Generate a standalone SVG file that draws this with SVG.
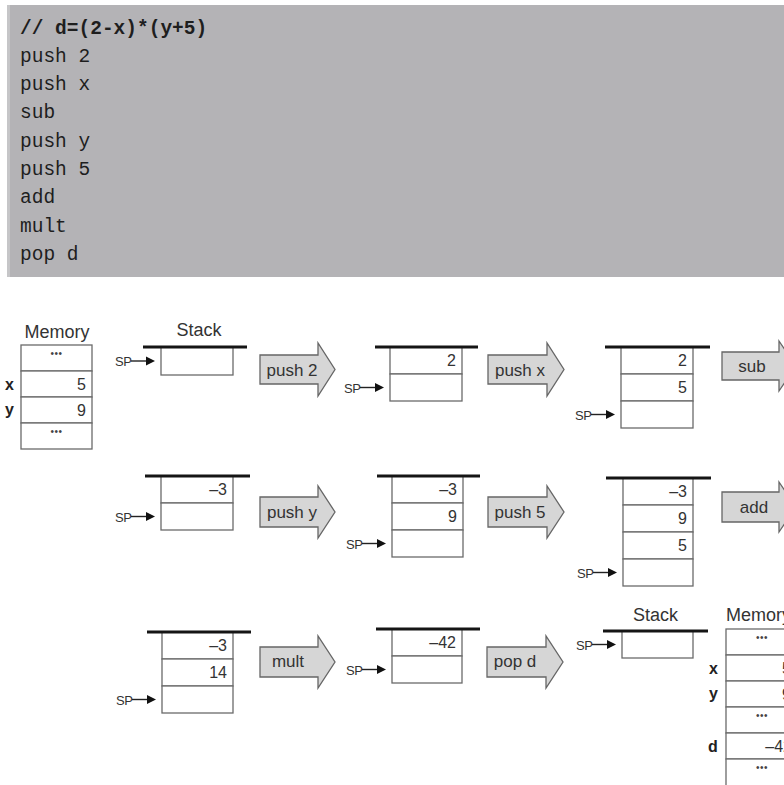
<svg xmlns="http://www.w3.org/2000/svg" width="784" height="785" viewBox="0 0 784 785">
<style>
.code{font-family:"Liberation Mono","Courier New",monospace;font-size:19.5px;fill:#1e1e1e}
.codeb{font-weight:bold}
.cell{fill:#fff;stroke:#6a6a6a;stroke-width:1.3}
.top{stroke:#151515;stroke-width:3}
.val{font-family:"Liberation Sans",Arial,sans-serif;font-size:16px;fill:#333;text-anchor:end}
.sp{font-family:"Liberation Sans",Arial,sans-serif;font-size:13px;fill:#333;letter-spacing:-0.5px}
.spl{stroke:#222;stroke-width:1.4}
.sph{fill:#111}
.op{fill:#d6d6d6;stroke:#666;stroke-width:1.3;stroke-linejoin:miter}
.opl{font-family:"Liberation Sans",Arial,sans-serif;font-size:17px;fill:#333;text-anchor:middle}
.ttl{font-family:"Liberation Sans",Arial,sans-serif;font-size:18px;fill:#333;text-anchor:middle}
.lbl{font-family:"Liberation Sans",Arial,sans-serif;font-size:16px;font-weight:bold;fill:#222}
.dots{font-family:"Liberation Sans",Arial,sans-serif;font-size:10px;fill:#444;text-anchor:middle;letter-spacing:0.5px}
</style>
<rect width="784" height="785" fill="#fff"/>

<g id="code">
<rect x="7" y="5" width="777" height="272" fill="#b4b3b6"/>
<rect x="7" y="5" width="3" height="272" fill="#c6c6c8"/>
<text class="code codeb" x="20" y="33.5">// d=(2-x)*(y+5)</text>
<text class="code" x="20" y="61.8">push 2</text>
<text class="code" x="20" y="90.1">push x</text>
<text class="code" x="20" y="118.4">sub</text>
<text class="code" x="20" y="146.7">push y</text>
<text class="code" x="20" y="175">push 5</text>
<text class="code" x="20" y="203.3">add</text>
<text class="code" x="20" y="231.6">mult</text>
<text class="code" x="20" y="260">pop d</text>
</g>

<g id="memory-before">
<text class="ttl" x="57" y="338">Memory</text>
<rect class="cell" x="21" y="345" width="71" height="26"/>
<rect class="cell" x="21" y="371" width="71" height="26"/>
<rect class="cell" x="21" y="397" width="71" height="26"/>
<rect class="cell" x="21" y="423" width="71" height="26"/>
<text class="dots" x="56.5" y="357">•••</text>
<text class="lbl" x="5" y="390">x</text>
<text class="val" x="86" y="389.7">5</text>
<text class="lbl" x="5" y="415">y</text>
<text class="val" x="86" y="415.7">9</text>
<text class="dots" x="56.5" y="435">•••</text>
</g>

<g id="stack-initial">
<text class="ttl" x="199" y="336">Stack</text>
<rect class="cell" x="161" y="347" width="72" height="28"/>
<line class="top" x1="143" y1="347" x2="247" y2="347"/>
<text class="sp" x="115" y="366">SP</text>
<line class="spl" x1="131" y1="361" x2="148" y2="361"/>
<polygon class="sph" points="146,356.5 155,361 146,365.5"/>
</g>

<g id="stack-push2">
<rect class="cell" x="390" y="347" width="72" height="27"/>
<rect class="cell" x="390" y="374" width="72" height="27"/>
<line class="top" x1="375" y1="347" x2="478" y2="347"/>
<text class="val" x="456" y="366.2">2</text>
<text class="sp" x="344" y="392.5">SP</text>
<line class="spl" x1="360" y1="387.5" x2="377" y2="387.5"/>
<polygon class="sph" points="375,383 384,387.5 375,392"/>
</g>

<g id="stack-pushx">
<rect class="cell" x="621" y="347" width="72" height="27"/>
<rect class="cell" x="621" y="374" width="72" height="27"/>
<rect class="cell" x="621" y="401" width="72" height="27"/>
<line class="top" x1="605" y1="347" x2="710" y2="347"/>
<text class="val" x="687" y="366.2">2</text>
<text class="val" x="687" y="393.2">5</text>
<text class="sp" x="575" y="419.5">SP</text>
<line class="spl" x1="591" y1="414.5" x2="608" y2="414.5"/>
<polygon class="sph" points="606,410 615,414.5 606,419"/>
</g>

<g id="stack-sub">
<rect class="cell" x="161" y="476" width="72" height="27"/>
<rect class="cell" x="161" y="503" width="72" height="27"/>
<line class="top" x1="145" y1="476" x2="250" y2="476"/>
<text class="val" x="227" y="495.2">–3</text>
<text class="sp" x="115" y="521.5">SP</text>
<line class="spl" x1="131" y1="516.5" x2="148" y2="516.5"/>
<polygon class="sph" points="146,512 155,516.5 146,521"/>
</g>

<g id="stack-pushy">
<rect class="cell" x="392" y="476" width="71" height="27"/>
<rect class="cell" x="392" y="503" width="71" height="27"/>
<rect class="cell" x="392" y="530" width="71" height="27"/>
<line class="top" x1="377" y1="476" x2="480" y2="476"/>
<text class="val" x="457" y="495.2">–3</text>
<text class="val" x="457" y="522.2">9</text>
<text class="sp" x="346" y="548.5">SP</text>
<line class="spl" x1="362" y1="543.5" x2="379" y2="543.5"/>
<polygon class="sph" points="377,539 386,543.5 377,548"/>
</g>

<g id="stack-push5">
<rect class="cell" x="623" y="478" width="70" height="27"/>
<rect class="cell" x="623" y="505" width="70" height="27"/>
<rect class="cell" x="623" y="532" width="70" height="27"/>
<rect class="cell" x="623" y="559" width="70" height="27"/>
<line class="top" x1="606" y1="478" x2="711" y2="478"/>
<text class="val" x="687" y="497.2">–3</text>
<text class="val" x="687" y="524.2">9</text>
<text class="val" x="687" y="551.2">5</text>
<text class="sp" x="577" y="577.5">SP</text>
<line class="spl" x1="593" y1="572.5" x2="610" y2="572.5"/>
<polygon class="sph" points="608,568 617,572.5 608,577"/>
</g>

<g id="stack-add">
<rect class="cell" x="162" y="632" width="71" height="27"/>
<rect class="cell" x="162" y="659" width="71" height="27"/>
<rect class="cell" x="162" y="686" width="71" height="27"/>
<line class="top" x1="147" y1="632" x2="251" y2="632"/>
<text class="val" x="227" y="651.2">–3</text>
<text class="val" x="227" y="678.2">14</text>
<text class="sp" x="116" y="704.5">SP</text>
<line class="spl" x1="132" y1="699.5" x2="149" y2="699.5"/>
<polygon class="sph" points="147,695 156,699.5 147,704"/>
</g>

<g id="stack-mult">
<rect class="cell" x="392" y="629" width="70" height="27"/>
<rect class="cell" x="392" y="656" width="70" height="27"/>
<line class="top" x1="376" y1="629" x2="480" y2="629"/>
<text class="val" x="456" y="648.2">–42</text>
<text class="sp" x="346" y="674.5">SP</text>
<line class="spl" x1="362" y1="669.5" x2="379" y2="669.5"/>
<polygon class="sph" points="377,665 386,669.5 377,674"/>
</g>

<g id="stack-popd">
<text class="ttl" x="655.5" y="621">Stack</text>
<rect class="cell" x="622" y="631" width="71" height="27"/>
<line class="top" x1="603" y1="631" x2="708" y2="631"/>
<text class="sp" x="576" y="649.5">SP</text>
<line class="spl" x1="592" y1="644.5" x2="609" y2="644.5"/>
<polygon class="sph" points="607,640 616,644.5 607,649"/>
</g>

<g id="memory-after">
<text class="ttl" x="726" y="621" style="text-anchor:start">Memory</text>
<rect class="cell" x="726" y="629" width="71" height="26"/>
<rect class="cell" x="726" y="655" width="71" height="26"/>
<rect class="cell" x="726" y="681" width="71" height="26"/>
<rect class="cell" x="726" y="707" width="71" height="26"/>
<rect class="cell" x="726" y="733" width="71" height="26"/>
<rect class="cell" x="726" y="759" width="71" height="30"/>
<text class="dots" x="762" y="641">•••</text>
<text class="lbl" x="709" y="673.5">x</text>
<text class="val" x="791" y="673.7">5</text>
<text class="lbl" x="709" y="699">y</text>
<text class="val" x="791" y="699.7">9</text>
<text class="dots" x="762" y="719">•••</text>
<text class="lbl" x="708" y="751.5">d</text>
<text class="val" x="792" y="751.7">–42</text>
<text class="dots" x="762" y="771">•••</text>
</g>

<g id="connectors">
<g id="op-push2"><polygon class="op" points="260,355 318,355 318,343 335,369.5 318,396 318,384 260,384"/><text class="opl" x="292" y="375.5">push 2</text></g>
<g id="op-pushx"><polygon class="op" points="488,355 547,355 547,343 564,369.5 547,396 547,384 488,384"/><text class="opl" x="520" y="375.5">push x</text></g>
<g id="op-sub"><polygon class="op" points="722,352 779,352 779,341 796,366 779,391 779,380 722,380"/><text class="opl" x="752" y="372">sub</text></g>
<g id="op-pushy"><polygon class="op" points="260,497 318,497 318,486 335,512 318,538 318,527 260,527"/><text class="opl" x="292" y="518">push y</text></g>
<g id="op-push5"><polygon class="op" points="488,497 547,497 547,486 564,512 547,538 547,527 488,527"/><text class="opl" x="520" y="518">push 5</text></g>
<g id="op-add"><polygon class="op" points="722,492 779,492 779,482 796,507 779,532 779,522 722,522"/><text class="opl" x="754" y="513">add</text></g>
<g id="op-mult"><polygon class="op" points="260,647 318,647 318,636 335,662 318,688 318,677 260,677"/><text class="opl" x="288" y="667">mult</text></g>
<g id="op-popd"><polygon class="op" points="487,647 546,647 546,636 563,662 546,688 546,677 487,677"/><text class="opl" x="515" y="667">pop d</text></g>
</g>
</svg>
